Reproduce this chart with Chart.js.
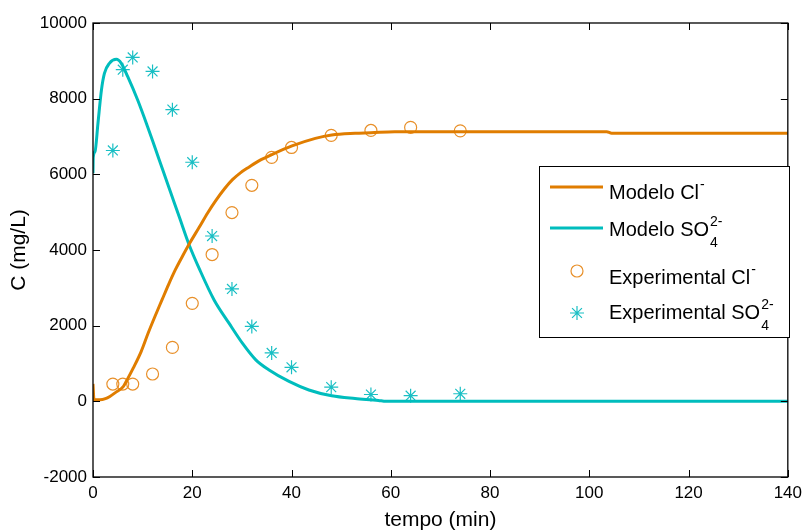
<!DOCTYPE html>
<html>
<head>
<meta charset="utf-8">
<title>Concentração vs tempo</title>
<script src="https://cdn.jsdelivr.net/npm/chart.js@4.4.1/dist/chart.umd.min.js"></script>
<style>
    html, body { margin: 0; padding: 0; background: #fff; }
    #wrap { width: 808px; height: 531px; }
</style>
</head>
<body>
<div id="wrap"><canvas id="chart" width="808" height="531"></canvas></div>
<script>
// ============================================
// Data
// ============================================

// model curve, chloride (t in min, C in mg/L)
const tModelCl = [0, 0.2, 1.4, 2.5, 3.4, 4.5, 6.1, 7, 8.1, 9.7, 11.1, 12.5, 13.9, 15.2, 16.6, 18, 19.3, 21.4, 23.1, 24.8, 26.5, 28.1, 29.7, 31.4, 33.6, 36, 40.1, 44.8, 48.1, 52.8, 56, 60.8, 80, 103.5, 104.5, 120, 140];
const cModelCl = [460, 40, 40, 70, 130, 230, 390, 600, 877, 1316, 1800, 2250, 2680, 3080, 3480, 3830, 4140, 4600, 4980, 5320, 5620, 5860, 6040, 6190, 6370, 6520, 6750, 6950, 7040, 7085, 7100, 7128, 7128, 7128, 7085, 7085, 7085];

// model curve, sulphate
const tModelSO4 = [0, 0.05, 0.4, 1, 1.7, 2.3, 3.3, 4.7, 5.7, 7, 9, 11, 12.5, 14.1, 15.6, 17.5, 19.3, 21.5, 24.4, 27.4, 30.1, 32.8, 35.4, 39.5, 43.5, 48.1, 52.8, 57.5, 59, 80, 100, 120, 140];
const cModelSO4 = [6030, 6450, 6600, 7350, 8230, 8670, 8935, 9040, 8935, 8580, 7965, 7260, 6700, 6100, 5540, 4830, 4160, 3480, 2680, 2066, 1537, 1096, 835, 526, 300, 145, 74, 25, 0, 0, 0, 0, 0];

// sampling times and measured concentrations
const tExp = [4, 6, 8, 12, 16, 20, 24, 28, 32, 36, 40, 48, 56, 64, 74];
const cExpCl = [457, 457, 457, 722, 1425, 2590, 3880, 4990, 5710, 6450, 6710, 7030, 7160, 7240, 7150];
const cExpSO4 = [6630, 8765, 9090, 8720, 7710, 6320, 4370, 2970, 1980, 1280, 900, 375, 180, 150, 200];

const xTicks = [0, 20, 40, 60, 80, 100, 120, 140];
const yTicks = [-2000, 0, 2000, 4000, 6000, 8000, 10000];

const ORANGE = '#E07D00';
const CYAN = '#00BDBD';
const SANS = '"Liberation Sans", Arial, Helvetica, sans-serif';

function toPoints(xs, ys) {
    return xs.map((x, i) => ({ x: x, y: ys[i] }));
}

// ============================================
// Legend rows (label, superscript, subscript)
// ============================================
const legendRows = [
    { ds: 0, text: 'Modelo Cl', sup: '-', sub: '' },
    { ds: 1, text: 'Modelo SO', sup: '2-', sub: '4' },
    { ds: 2, text: 'Experimental Cl', sup: '-', sub: '' },
    { ds: 3, text: 'Experimental SO', sup: '2-', sub: '4' }
];
const legendMarkY = [187, 228, 271, 313];
const legendBaseY = [199, 236, 284, 319];

// box with inward ticks on all four sides
const framePlugin = {
    id: 'frame',
    afterDatasetsDraw(chart) {
        const ctx = chart.ctx;
        const a = chart.chartArea;
        const xs = chart.scales.x, ys = chart.scales.y;
        const tl = 7;
        ctx.save();
        ctx.strokeStyle = '#000';
        ctx.lineWidth = 1.3;
        ctx.strokeRect(a.left, a.top, a.right - a.left, a.bottom - a.top);
        ctx.lineWidth = 1;
        ctx.beginPath();
        xTicks.forEach(v => {
            const px = Math.round(xs.getPixelForValue(v)) + 0.5;
            ctx.moveTo(px, a.bottom); ctx.lineTo(px, a.bottom - tl);
            ctx.moveTo(px, a.top); ctx.lineTo(px, a.top + tl);
        });
        yTicks.forEach(v => {
            const py = Math.round(ys.getPixelForValue(v)) + 0.5;
            ctx.moveTo(a.left, py); ctx.lineTo(a.left + tl, py);
            ctx.moveTo(a.right, py); ctx.lineTo(a.right - tl, py);
        });
        ctx.stroke();
        ctx.restore();
    }
};

const legendPlugin = {
    id: 'customLegend',
    afterDraw(chart) {
        const ctx = chart.ctx;
        const bx = 539.5, by = 166.5, bw = 250, bh = 171;
        ctx.save();
        ctx.fillStyle = '#fff';
        ctx.fillRect(bx, by, bw, bh);
        ctx.strokeStyle = '#000';
        ctx.lineWidth = 1;
        ctx.strokeRect(bx, by, bw, bh);

        legendRows.forEach((row, i) => {
            const ds = chart.data.datasets[row.ds];
            const my = legendMarkY[i];
            ctx.strokeStyle = ds.borderColor;
            ctx.lineWidth = ds.borderWidth;
            if (ds.showLine === false) {
                ctx.fillStyle = 'rgba(0,0,0,0)';
                Chart.helpers.drawPoint(ctx, {
                    pointStyle: ds.pointStyle,
                    radius: ds.pointRadius,
                    borderWidth: ds.borderWidth,
                    rotation: 0
                }, 577, my);
            } else {
                ctx.beginPath();
                ctx.moveTo(550, my);
                ctx.lineTo(603, my);
                ctx.stroke();
            }

            const tx = 609, base = legendBaseY[i];
            ctx.fillStyle = '#000';
            ctx.textBaseline = 'alphabetic';
            ctx.textAlign = 'left';
            ctx.font = '20px ' + SANS;
            ctx.fillText(row.text, tx, base);
            const sx = tx + ctx.measureText(row.text).width + 1;
            ctx.font = '14px ' + SANS;
            if (row.sup) ctx.fillText(row.sup, sx, base - 10);
            if (row.sub) ctx.fillText(row.sub, sx, base + 11);
        });
        ctx.restore();
    }
};

// ============================================
// Chart
// ============================================
const ctx = document.getElementById('chart').getContext('2d');
new Chart(ctx, {
    type: 'line',
    data: {
        datasets: [
            {
                label: 'Modelo Cl-',
                data: toPoints(tModelCl, cModelCl),
                borderColor: ORANGE,
                borderWidth: 3,
                pointRadius: 0,
                cubicInterpolationMode: 'monotone',
                fill: false
            },
            {
                label: 'Modelo SO4 2-',
                data: toPoints(tModelSO4, cModelSO4),
                borderColor: CYAN,
                borderWidth: 3,
                pointRadius: 0,
                cubicInterpolationMode: 'monotone',
                fill: false
            },
            {
                label: 'Experimental Cl-',
                data: toPoints(tExp, cExpCl),
                showLine: false,
                pointStyle: 'circle',
                pointRadius: 6,
                borderWidth: 1.2,
                borderColor: '#E8902A',
                backgroundColor: 'rgba(0,0,0,0)',
                pointBackgroundColor: 'rgba(0,0,0,0)'
            },
            {
                label: 'Experimental SO4 2-',
                data: toPoints(tExp, cExpSO4),
                showLine: false,
                pointStyle: 'star',
                pointRadius: 7,
                borderWidth: 1.2,
                borderColor: '#19BFC4',
                backgroundColor: 'rgba(0,0,0,0)'
            }
        ]
    },
    options: {
        responsive: false,
        animation: false,
        layout: { padding: { top: 23, right: 15, left: 0, bottom: 0 } },
        plugins: {
            legend: { display: false },
            tooltip: { enabled: false }
        },
        scales: {
            x: {
                type: 'linear',
                min: 0,
                max: 140,
                afterBuildTicks: s => { s.ticks = xTicks.map(v => ({ value: v })); },
                afterFit: s => { s.height = 54; },
                grid: { display: false, drawTicks: false },
                border: { display: false },
                ticks: {
                    color: '#000',
                    font: { family: SANS, size: 17 },
                    padding: 6,
                    maxRotation: 0,
                    autoSkip: false,
                    callback: v => String(v)
                },
                title: {
                    display: true,
                    text: 'tempo (min)',
                    color: '#000',
                    font: { family: SANS, size: 21, lineHeight: 1 },
                    padding: { top: 0, bottom: 0 }
                }
            },
            y: {
                type: 'linear',
                min: -2000,
                max: 10000,
                afterBuildTicks: s => { s.ticks = yTicks.map(v => ({ value: v })); },
                afterFit: s => { s.width = 93; },
                grid: { display: false, drawTicks: false },
                border: { display: false },
                ticks: {
                    color: '#000',
                    font: { family: SANS, size: 17 },
                    padding: 6,
                    autoSkip: false,
                    callback: v => String(v)
                },
                title: {
                    display: true,
                    text: 'C (mg/L)',
                    color: '#000',
                    font: { family: SANS, size: 21, lineHeight: 1 },
                    padding: { top: 9, bottom: 0 }
                }
            }
        }
    },
    plugins: [framePlugin, legendPlugin]
});
</script>
</body>
</html>
